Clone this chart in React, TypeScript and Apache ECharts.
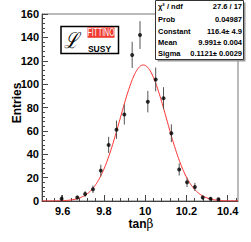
import React, { useEffect, useRef } from "react";
import * as echarts from "echarts";

// Histogram bin centres (tanβ) and contents with their error bars
const binCenters = [9.595, 9.671, 9.709, 9.747, 9.785, 9.823, 9.861, 9.899, 9.937, 9.975, 10.013, 10.051, 10.089, 10.127, 10.165, 10.203, 10.241, 10.279, 10.317, 10.355];
const entries = [2, 3, 6, 10, 26, 48, 61, 74, 125, 142, 85, 104, 88, 58, 27, 16, 12, 3, 2, 1.5];
const errors = [3, 1.7, 2.5, 3.2, 5.1, 6.9, 7.8, 8.6, 11.2, 11.9, 9.2, 10.2, 9.4, 7.6, 5.2, 4, 3.5, 1.7, 1.4, 1.2];

// Gaussian fit parameters (from the stats box)
const fitConstant = 116.4;
const fitMean = 9.991;
const fitSigma = 0.1121;

// Axes
const xMin = 9.5;
const xMax = 10.45;
const xMajorTicks = [9.6, 9.8, 10.0, 10.2, 10.4];
const xMinorTicks = [9.52, 9.56, 9.64, 9.68, 9.72, 9.76, 9.84, 9.88, 9.92, 9.96, 10.04, 10.08, 10.12, 10.16, 10.24, 10.28, 10.32, 10.36, 10.44];
const yMin = 0;
const yMax = 160;
const yInterval = 20;

// Stats box rows
const statLabels = ["χ² / ndf", "Prob", "Constant", "Mean", "Sigma"];
const statValues = ["27.6 / 17", "0.04987", "116.4± 4.9", "9.991± 0.004", "0.1121± 0.0029"];

const FONT = "Liberation Sans, Arial, Helvetica, sans-serif";

export default function App() {
  const ref = useRef<HTMLDivElement>(null);

  useEffect(() => {
    if (!ref.current) return;
    const chart = echarts.init(ref.current, null, { renderer: "svg" });

    const fitData: number[][] = [];
    const steps = 380;
    for (let i = 0; i <= steps; i++) {
      const x = xMin + ((xMax - xMin) * i) / steps;
      const z = (x - fitMean) / fitSigma;
      fitData.push([x, fitConstant * Math.exp(-0.5 * z * z)]);
    }

    const points = binCenters.map((x, i) => [x, entries[i], errors[i]]);

    const statRowsY = [6.5, 19, 31, 42.5, 53.5];
    const statGraphics: any[] = [];
    statLabels.forEach((lab, i) => {
      statGraphics.push({
        type: "text",
        x: 158,
        y: statRowsY[i],
        z: 102,
        style: { text: lab, fill: "#000", font: `bold 7.5px ${FONT}`, align: "left", verticalAlign: "middle" },
      });
      statGraphics.push({
        type: "text",
        x: 242,
        y: statRowsY[i],
        z: 102,
        style: { text: statValues[i], fill: "#000", font: `bold 7.5px ${FONT}`, align: "right", verticalAlign: "middle" },
      });
    });

    chart.setOption({
      animation: false,
      backgroundColor: "#fff",
      grid: {
        left: 42,
        top: 14,
        width: 196,
        height: 187,
        show: true,
        borderColor: "#777",
        borderWidth: 1,
        backgroundColor: "transparent",
      },
      xAxis: [
        {
          type: "value",
          min: xMin,
          max: xMax,
          position: "bottom",
          axisLine: { show: true, onZero: false, lineStyle: { color: "#444", width: 1 } },
          axisTick: { show: true, inside: true, length: 6, customValues: xMajorTicks, lineStyle: { color: "#444" } },
          axisLabel: {
            show: true,
            customValues: xMajorTicks,
            margin: 4,
            color: "#000",
            fontSize: 11,
            fontWeight: "bold",
            fontFamily: FONT,
            formatter: (v: number) => String(Math.round(v * 10) / 10),
          },
          splitLine: { show: false },
        },
        {
          type: "value",
          min: xMin,
          max: xMax,
          position: "bottom",
          axisLine: { show: false },
          axisTick: { show: true, inside: true, length: 3, customValues: xMinorTicks, lineStyle: { color: "#444" } },
          axisLabel: { show: false },
          splitLine: { show: false },
        },
      ],
      yAxis: {
        type: "value",
        min: yMin,
        max: yMax,
        interval: yInterval,
        axisLine: { show: true, onZero: false, lineStyle: { color: "#444", width: 1 } },
        axisTick: { show: true, inside: true, length: 6, lineStyle: { color: "#444" } },
        minorTick: { show: true, splitNumber: 5, length: 3, lineStyle: { color: "#444" } },
        axisLabel: { margin: 3, color: "#000", fontSize: 11, fontWeight: "bold", fontFamily: FONT },
        splitLine: { show: false },
        minorSplitLine: { show: false },
      },
      series: [
        {
          type: "line",
          data: fitData,
          showSymbol: false,
          symbol: "none",
          lineStyle: { color: "#ff2b2b", width: 1 },
          z: 2,
          silent: true,
        },
        {
          type: "custom",
          data: points,
          clip: true,
          z: 3,
          renderItem: (params: any, api: any) => {
            const x = api.value(0);
            const y = api.value(1);
            const e = api.value(2);
            const top = api.coord([x, y + e]);
            const bot = api.coord([x, Math.max(y - e, 0)]);
            return {
              type: "line",
              shape: { x1: top[0], y1: top[1], x2: bot[0], y2: bot[1] },
              style: { stroke: "#555", lineWidth: 1 },
            };
          },
        },
        {
          type: "scatter",
          data: points.map((p) => [p[0], p[1]]),
          symbol: "circle",
          symbolSize: 4,
          itemStyle: { color: "#000" },
          z: 4,
        },
      ],
      graphic: [
        // stats box shadow + box
        { type: "rect", z: 100, shape: { x: 157.5, y: 2.5, width: 88, height: 59 }, style: { fill: "#999" } },
        { type: "rect", z: 101, shape: { x: 155.5, y: 0.5, width: 88, height: 59 }, style: { fill: "#fff", stroke: "#333", lineWidth: 1 } },
        ...statGraphics,
        // Fittino logo
        { type: "rect", z: 100, shape: { x: 61, y: 26.5, width: 57.5, height: 27 }, style: { fill: "#fff", stroke: "#000", lineWidth: 1.5 } },
        { type: "rect", z: 101, shape: { x: 87.5, y: 27.3, width: 27, height: 10.5 }, style: { fill: "#ef3b30" } },
        {
          type: "text",
          z: 102,
          x: 101,
          y: 32.6,
          scaleX: 0.7,
          style: { text: "FITTINO", fill: "#fff", font: `10px ${FONT}`, align: "center", verticalAlign: "middle" },
        },
        {
          type: "text",
          z: 102,
          x: 99.5,
          y: 48.5,
          style: { text: "SUSY", fill: "#000", font: `bold 8.5px ${FONT}`, align: "center", verticalAlign: "middle" },
        },
        {
          type: "text",
          z: 102,
          x: 72,
          y: 40.5,
          scaleX: 0.8,
          style: { text: "ℒ", fill: "#000", font: `italic 22px DejaVu Serif, serif`, align: "center", verticalAlign: "middle" },
        },
        // axis titles
        {
          type: "text",
          z: 102,
          x: 17,
          y: 103,
          rotation: Math.PI / 2,
          style: { text: "Entries", fill: "#000", font: `bold 12px ${FONT}`, align: "center", verticalAlign: "middle" },
        },
        {
          type: "text",
          z: 102,
          x: 141,
          y: 224,
          style: {
            text: "{a|tan}{b|β}",
            align: "center",
            verticalAlign: "middle",
            rich: {
              a: { fontFamily: FONT, fontWeight: "bold", fontSize: 12, fill: "#000", color: "#000" },
              b: { fontFamily: "DejaVu Serif, serif", fontSize: 12, fill: "#000", color: "#000" },
            },
          },
        },
      ],
    });

    return () => chart.dispose();
  }, []);

  return <div ref={ref} style={{ position: "fixed", left: 0, top: 0, width: 251, height: 242 }} />;
}
